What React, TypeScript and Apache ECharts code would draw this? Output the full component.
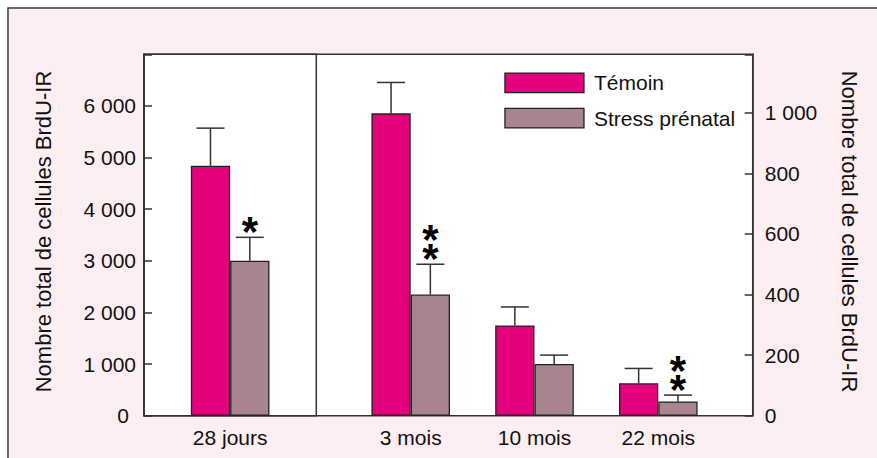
import { useEffect, useRef } from 'react';
import * as echarts from 'echarts';

const FONT = '"Liberation Sans", Arial, Helvetica, sans-serif';

// Data
const categoriesLeft = ['28 jours'];
const categoriesRight = ['3 mois', '10 mois', '22 mois'];
const seriesNames = ['Témoin', 'Stress prénatal'];

// 28 jours (left axis)
const temoinLeft = [4840];
const temoinLeftErr = [5570];
const stressLeft = [3000];
const stressLeftErr = [3455];
const starsLeftTemoin = [0];
const starsLeftStress = [1];

// 3, 10, 22 mois (right axis)
const temoinRight = [998, 298, 107];
const temoinRightErr = [1100, 359, 156];
const stressRight = [400, 171, 47];
const stressRightErr = [500, 200, 68];
const starsRightTemoin = [0, 0, 0];
const starsRightStress = [2, 0, 2];

// Axes
const leftAxisMax = 7000;
const leftAxisInterval = 1000;
const leftLabelMax = 6000;
const rightAxisMax = 1193;
const rightAxisInterval = 200;
const rightLabelMax = 1000;

const yName = 'Nombre total de cellules BrdU-IR';

const COLORS = ['#E5007D', '#A8848F'];
const BAR_W = 39.3;
const CAP = 28;
const STAR_STEP = 19;

function fmt(v: number): string {
  if (v >= 1000) {
    const th = Math.floor(v / 1000);
    const rest = String(v % 1000).padStart(3, '0');
    return th + ' ' + rest;
  }
  return String(v);
}

function errSeries(xi: number, yi: number, vals: number[], errs: number[], stars: number[], side: number) {
  return {
    type: 'custom',
    xAxisIndex: xi,
    yAxisIndex: yi,
    z: 5,
    silent: true,
    data: vals.map((v, i) => [i, v, errs[i], stars[i]]),
    renderItem: (params: any, api: any) => {
      const idx = api.value(0);
      const base = api.coord([idx, api.value(1)]);
      const top = api.coord([idx, api.value(2)]);
      const x = base[0] + (side * BAR_W) / 2;
      const children: any[] = [
        { type: 'line', shape: { x1: x, y1: base[1], x2: x, y2: top[1] }, style: { stroke: '#333', lineWidth: 1.5 } },
        { type: 'line', shape: { x1: x - CAP / 2, y1: top[1], x2: x + CAP / 2, y2: top[1] }, style: { stroke: '#333', lineWidth: 1.5 } },
      ];
      const n = api.value(3);
      if (n > 0) {
        const lines: string[] = [];
        for (let k = 0; k < n; k++) lines.push('*');
        children.push({
          type: 'text',
          x: x,
          y: top[1] + 4,
          style: {
            text: lines.join('\n'),
            fontSize: 42,
            lineHeight: STAR_STEP,
            fontWeight: 'bold',
            fontFamily: FONT,
            fill: '#000',
            align: 'center',
            verticalAlign: 'bottom',
          },
        });
      }
      return { type: 'group', children };
    },
  };
}

function barSeries(name: string, xi: number, yi: number, data: number[], color: string) {
  return {
    name,
    type: 'bar',
    xAxisIndex: xi,
    yAxisIndex: yi,
    data,
    barWidth: BAR_W,
    barGap: '0%',
    itemStyle: { color, borderColor: '#222', borderWidth: 1.3 },
    silent: true,
  };
}

const labelStyle = { fontSize: 21, color: '#111', fontFamily: FONT };

export default function App() {
  const ref = useRef<HTMLDivElement>(null);
  useEffect(() => {
    if (!ref.current) return;
    const chart = echarts.init(ref.current, undefined, { renderer: 'svg' });
    const gTop = 54.3;
    const gHeight = 361.4;
    const option: any = {
      animation: false,
      backgroundColor: '#ffffff',
      graphic: {
        elements: [
          {
            type: 'rect',
            z: -10,
            silent: true,
            shape: { x: 8, y: 8, width: 900, height: 500 },
            style: { fill: '#FDEEF1', stroke: '#3c3c3c', lineWidth: 1.5 },
          },
        ],
      },
      legend: {
        data: seriesNames,
        orient: 'vertical',
        left: 504.3,
        top: 72.3,
        padding: 0,
        itemWidth: 79,
        itemHeight: 19.5,
        itemGap: 14.4,
        icon: 'rect',
        itemStyle: { borderColor: '#222', borderWidth: 1.3 },
        textStyle: { ...labelStyle, lineHeight: 20, padding: [0, 0, 0, 5] },
        selectedMode: false,
      },
      grid: [
        { left: 144, top: gTop, width: 608.7, height: gHeight, show: true, backgroundColor: '#ffffff', borderColor: '#333', borderWidth: 1.5 },
        { left: 144, top: gTop, width: 172.3, height: gHeight, show: true, backgroundColor: 'transparent', borderColor: '#333', borderWidth: 1.5 },
        { left: 348.8, top: gTop, width: 371.4, height: gHeight, show: false },
      ],
      xAxis: [
        { type: 'value', gridIndex: 0, show: false, min: 0, max: 1 },
        {
          type: 'category',
          gridIndex: 1,
          data: categoriesLeft,
          axisLine: { show: false },
          axisTick: { show: false },
          axisLabel: { ...labelStyle, margin: 11 },
        },
        {
          type: 'category',
          gridIndex: 2,
          data: categoriesRight,
          axisLine: { show: false },
          axisTick: { show: false },
          axisLabel: { ...labelStyle, margin: 11 },
        },
      ],
      yAxis: [
        { type: 'value', gridIndex: 0, show: false, min: 0, max: 1 },
        {
          type: 'value',
          gridIndex: 1,
          position: 'left',
          min: 0,
          max: leftAxisMax,
          interval: leftAxisInterval,
          splitLine: { show: false },
          axisLine: { show: true, lineStyle: { color: '#333', width: 1.5 } },
          axisTick: { show: true, inside: true, length: 8, lineStyle: { color: '#333', width: 1.5 } },
          axisLabel: {
            ...labelStyle,
            margin: 8,
            formatter: (v: number) => (v > leftLabelMax ? '' : v === 0 ? '{z|0}' : fmt(v)),
            rich: { z: { ...labelStyle, padding: [0, 7, 0, 0] } },
          },
          name: yName,
          nameLocation: 'middle',
          nameRotate: 90,
          nameGap: 90,
          nameTextStyle: { ...labelStyle, fontSize: 22, padding: [0, 0, 0, 7] },
        },
        {
          type: 'value',
          gridIndex: 2,
          position: 'right',
          offset: 32.5,
          min: 0,
          max: rightAxisMax,
          interval: rightAxisInterval,
          splitLine: { show: false },
          axisLine: { show: true, lineStyle: { color: '#333', width: 1.5 } },
          axisTick: { show: true, inside: true, length: 8, lineStyle: { color: '#333', width: 1.5 } },
          axisLabel: {
            ...labelStyle,
            margin: 12,
            formatter: (v: number) => (v > rightLabelMax ? '' : fmt(v)),
          },
          name: yName,
          nameLocation: 'middle',
          nameRotate: -90,
          nameGap: 86,
          nameTextStyle: { ...labelStyle, fontSize: 22, padding: [0, 7, 0, 0] },
        },
      ],
      series: [
        barSeries(seriesNames[0], 1, 1, temoinLeft, COLORS[0]),
        barSeries(seriesNames[1], 1, 1, stressLeft, COLORS[1]),
        barSeries(seriesNames[0], 2, 2, temoinRight, COLORS[0]),
        barSeries(seriesNames[1], 2, 2, stressRight, COLORS[1]),
        errSeries(1, 1, temoinLeft, temoinLeftErr, starsLeftTemoin, -1),
        errSeries(1, 1, stressLeft, stressLeftErr, starsLeftStress, 1),
        errSeries(2, 2, temoinRight, temoinRightErr, starsRightTemoin, -1),
        errSeries(2, 2, stressRight, stressRightErr, starsRightStress, 1),
      ],
    };
    chart.setOption(option);
    return () => chart.dispose();
  }, []);
  return (
    <div
      ref={ref}
      style={{ position: 'fixed', left: 0, top: 0, width: 877, height: 458 }}
    />
  );
}
